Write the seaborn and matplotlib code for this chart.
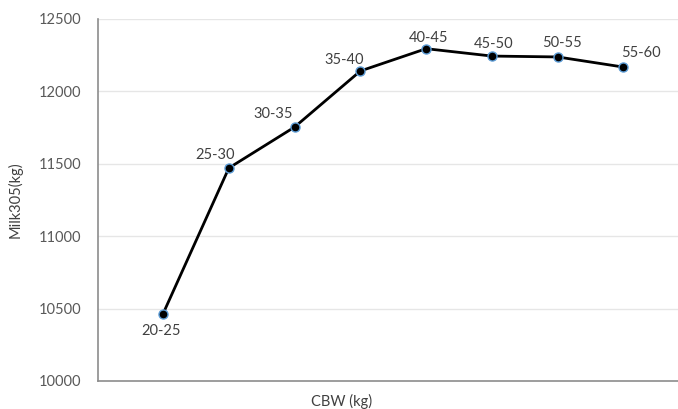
import matplotlib
matplotlib.use("Agg")
import matplotlib.pyplot as plt
import numpy as np
import pandas as pd
import seaborn as sns

groups = ["20-25", "25-30", "30-35", "35-40", "40-45", "45-50", "50-55", "55-60"]
milk305 = [10465, 11471, 11754, 12141, 12295, 12244, 12238, 12168]
yticks = [10000, 10500, 11000, 11500, 12000, 12500]

# label offsets in pixels (dx, dy)
label_offsets = [(-2, -17), (-14, 13), (-21, 13), (-16, 11), (2, 11), (2, 12), (4, 14), (18, 14)]

df = pd.DataFrame({"pos": np.arange(len(groups)), "milk": milk305, "grp": groups})

sns.set_style("white")
plt.rcParams["font.family"] = ["Lato", "DejaVu Sans"]

fig = plt.figure(figsize=(6.78, 4.09), dpi=100)
ax = fig.add_axes([98 / 678, 1 - 381 / 409, 1 - 98 / 678, (381 - 19) / 409])

for y in yticks[1:]:
    ax.axhline(y, color="#e6e6e6", lw=1, zorder=0)

sns.lineplot(data=df, x="pos", y="milk", ax=ax, color="black", lw=2,
             marker="o", markersize=6.5, markerfacecolor="black",
             markeredgecolor="#5b9bd5", markeredgewidth=1.0, zorder=3)

for i, row in df.iterrows():
    dx, dy = label_offsets[i]
    ax.annotate(row["grp"], (row["pos"], row["milk"]), xytext=(dx * 0.72, dy * 0.72),
                textcoords="offset points", ha="center", va="center",
                fontsize=10.5, color="#404040")

ax.set_xlim(-0.99, 7.83)
ax.set_ylim(10000, 12500)
ax.set_yticks(yticks)
ax.set_xticks([])
ax.tick_params(axis="y", length=0, pad=12, labelsize=10.5, labelcolor="#595959")

for s in ["top", "right"]:
    ax.spines[s].set_visible(False)
for s in ["left", "bottom"]:
    ax.spines[s].set_color("#8c8c8c")
    ax.spines[s].set_linewidth(1.2)

ax.set_xlabel("CBW (kg)", fontsize=10.5, color="#404040")
ax.xaxis.set_label_coords(0.42, -0.035)
ax.set_ylabel("Milk305(kg)", fontsize=10.5, color="#404040")
ax.yaxis.set_label_coords(-0.13, 0.5)

fig.savefig("out.png", dpi=100)
